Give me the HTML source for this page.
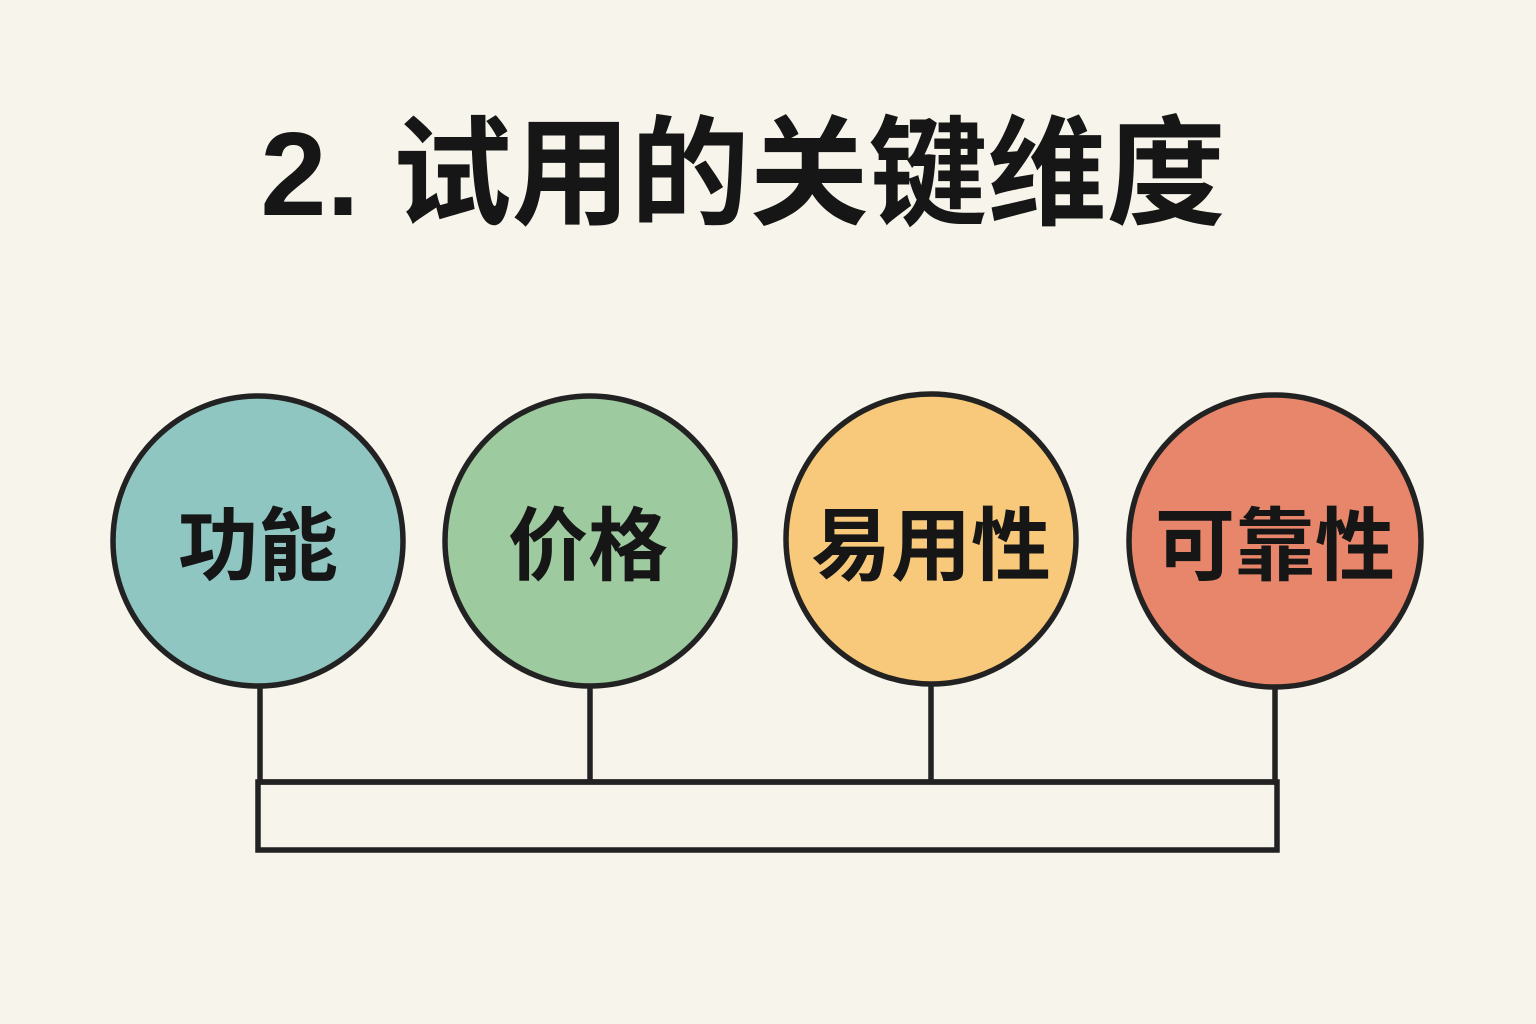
<!DOCTYPE html>
<html><head><meta charset="utf-8"><style>
html,body{margin:0;padding:0;background:#f7f4eb;}
svg{display:block}
text{font-family:"Liberation Sans","Noto Sans CJK SC",sans-serif;font-weight:bold;fill:#161616}
</style></head><body>
<svg width="1536" height="1024" viewBox="0 0 1536 1024">
<rect width="1536" height="1024" fill="#f7f4eb"/>
<text x="743" y="215" font-size="119" text-anchor="middle">2. 试用的关键维度</text>
<g stroke="#222" stroke-width="5.5" fill="none">
<line x1="260" y1="686" x2="260" y2="784"/>
<line x1="590" y1="686" x2="590" y2="784"/>
<line x1="931" y1="683" x2="931" y2="784"/>
<line x1="1275" y1="686" x2="1275" y2="784"/>
<line x1="258" y1="782" x2="1277" y2="782"/>
<rect x="258" y="782" width="1019" height="68"/>
</g>
<g stroke="#222" stroke-width="5.5">
<circle cx="258" cy="541" r="145" fill="#8fc6c1"/>
<circle cx="590" cy="541" r="145" fill="#9ecaa0"/>
<circle cx="931" cy="539" r="145" fill="#f8c97a"/>
<circle cx="1275" cy="541" r="146" fill="#e8866b"/>
</g>
<g font-size="80" text-anchor="middle">
<text x="258" y="574">功能</text>
<text x="588" y="574">价格</text>
<text x="931" y="574">易用性</text>
<text x="1275" y="574">可靠性</text>
</g>
</svg>
</body></html>
